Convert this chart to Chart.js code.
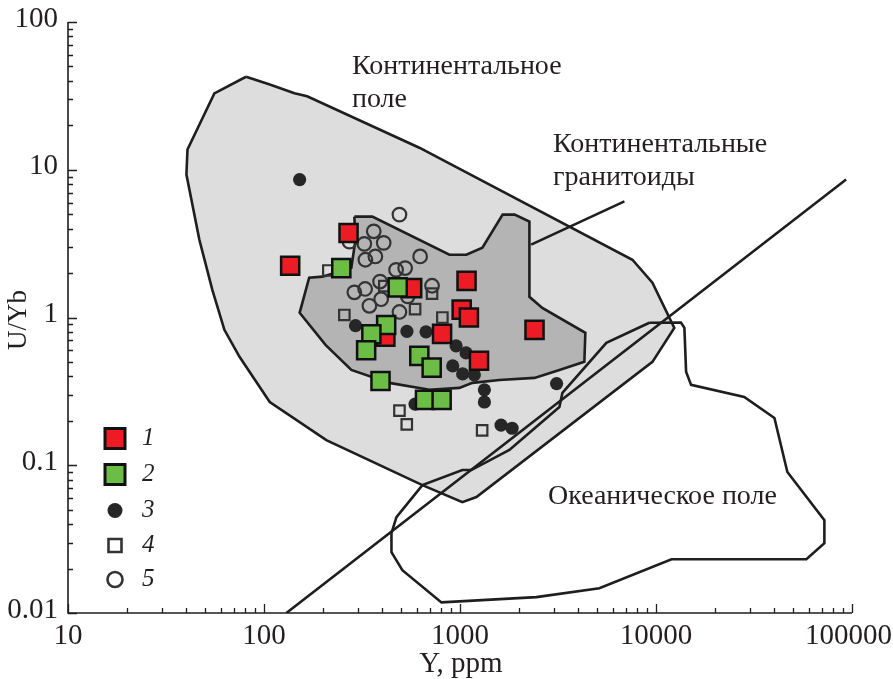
<!DOCTYPE html>
<html>
<head>
<meta charset="utf-8">
<script src="https://cdn.jsdelivr.net/npm/chart.js@4/dist/chart.umd.min.js"></script>
<style>
  html, body { margin: 0; padding: 0; background: #ffffff; }
  #wrap { width: 893px; height: 679px; }
</style>
</head>
<body>
<div id="wrap"><canvas id="c" width="893" height="679"></canvas></div>
<script>
// ---- sample groups: Y (ppm) and U/Yb ----
const yPpm1 = [270, 136, 1080, 570, 1020, 1110, 416, 810, 1250, 2400];
const uYb1  = [3.73, 2.24, 1.77, 1.58, 1.13, 1.0, 0.74, 0.775, 0.51, 0.825];
const yPpm2 = [248, 481, 420, 353, 332, 620, 717, 393, 663, 806];
const uYb2  = [2.16, 1.6, 0.89, 0.77, 0.6, 0.55, 0.458, 0.372, 0.277, 0.277];
const yPpm3 = [152, 293, 536, 671, 955, 1074, 918, 1032, 1184, 1332, 1332, 590, 1620, 1844, 3110];
const uYb3  = [8.58, 0.88, 0.806, 0.80, 0.643, 0.576, 0.47, 0.415, 0.409, 0.324, 0.268, 0.259, 0.187, 0.178, 0.357];
const yPpm4 = [213, 257, 411, 590, 720, 813, 491, 535, 1297];
const uYb4  = [2.08, 1.04, 1.63, 1.14, 1.45, 1.0, 0.234, 0.189, 0.172];
const yPpm5 = [491, 363, 273, 325, 408, 329, 370, 626, 472, 525, 391, 289, 328, 396, 345, 491, 720, 541];
const uYb5  = [4.97, 3.83, 3.26, 3.15, 3.2, 2.46, 2.59, 2.59, 2.1, 2.16, 1.75, 1.48, 1.56, 1.33, 1.2, 1.09, 1.64, 1.39];
const groupLabels = ['1', '2', '3', '4', '5'];

// ---- discrimination field outlines ----
const contFieldY = [81, 107, 143, 166, 620, 7580, 9590, 12400, 9590, 1213, 1028, 643, 208, 107, 75, 62.8, 54.5, 46.8, 40.2, 40.7, 55.8, 81];
const contFieldU = [42.6, 37.8, 32.9, 31.4, 14.1, 2.46, 1.72, 0.851, 0.501, 0.0609, 0.0563, 0.0734, 0.148, 0.268, 0.542, 0.825, 1.54, 3.36, 9.28, 13.7, 32.9, 42.6];

const granY = [289, 357, 883, 1078, 1301, 1650, 1900, 2260, 2260, 2630, 4360, 4310, 3215, 2400, 1590, 1157, 993, 698, 436, 279, 206, 152, 170, 199, 279, 293, 289];
const granU = [4.82, 4.82, 2.66, 2.66, 2.97, 4.97, 4.97, 4.46, 1.38, 1.16, 0.788, 0.501, 0.442, 0.39, 0.378, 0.361, 0.334, 0.324, 0.361, 0.442, 0.653, 1.076, 1.86, 1.89, 2.17, 3.36, 4.82];

const oceanY = [9250, 13400, 13960, 14240, 15100, 28200, 40200, 46800, 72300, 72300, 58500, 12000, 5140, 2450, 804, 508, 447, 447, 474, 643, 1028, 1143, 1786, 3215, 3330, 5580, 9250];
const oceanU = [0.921, 0.923, 0.851, 0.43, 0.35, 0.29, 0.209, 0.09, 0.0425, 0.0297, 0.0231, 0.0231, 0.0147, 0.0128, 0.0118, 0.0195, 0.0258, 0.0347, 0.0446, 0.0734, 0.0928, 0.0928, 0.127, 0.248, 0.309, 0.674, 0.921];

const dividerY = [130, 93300];
const dividerU = [0.01, 8.6];

const leaderY = [2306, 6900];
const leaderU = [3.11, 6.11];

// ---- axes ----
const xTickValues = [10, 100, 1000, 10000, 100000];
const xTickLabels = ['10', '100', '1000', '10000', '100000'];
const yTickValues = [0.01, 0.1, 1, 10, 100];
const yTickLabels = ['0.01', '0.1', '1', '10', '100'];
const xTitle = 'Y, ppm';
const yTitle = 'U/Yb';

const fieldLabels = [
  { lines: ['Континентальное', 'поле'], x: 352, y: 67 },
  { lines: ['Континентальные', 'гранитоиды'], x: 553, y: 145 },
  { lines: ['Океаническое поле'], x: 548, y: 497 }
];

const pairs = (xs, ys) => xs.map((x, i) => ({ x: x, y: ys[i] }));

const INK = '#1e1e1e';
const SERIF = '"Liberation Serif", "Times New Roman", serif';

const outline = (data, order, extra) => Object.assign({
  type: 'line',
  data: data,
  order: order,
  borderColor: INK,
  borderWidth: 2.6,
  pointRadius: 0,
  tension: 0,
  fill: false,
  borderJoinStyle: 'miter'
}, extra || {});

const datasets = [
  { label: groupLabels[1], data: pairs(yPpm2, uYb2), order: 1,
    pointStyle: 'rect', pointRadius: 12.8, pointBackgroundColor: '#6cbd45', pointBorderColor: '#111', pointBorderWidth: 2.5 },
  { label: groupLabels[0], data: pairs(yPpm1, uYb1), order: 2,
    pointStyle: 'rect', pointRadius: 12.8, pointBackgroundColor: '#ed1c24', pointBorderColor: '#111', pointBorderWidth: 2.5 },
  { label: groupLabels[2], data: pairs(yPpm3, uYb3), order: 3,
    pointStyle: 'circle', pointRadius: 6.6, pointBackgroundColor: '#262626', pointBorderColor: '#262626', pointBorderWidth: 0 },
  { label: groupLabels[4], data: pairs(yPpm5, uYb5), order: 4,
    pointStyle: 'circle', pointRadius: 6.8, pointBackgroundColor: 'rgba(0,0,0,0)', pointBorderColor: '#333', pointBorderWidth: 2.2 },
  { label: groupLabels[3], data: pairs(yPpm4, uYb4), order: 5,
    pointStyle: 'rect', pointRadius: 7.4, pointBackgroundColor: 'rgba(0,0,0,0)', pointBorderColor: '#333', pointBorderWidth: 2.2 },
  outline(pairs(dividerY, dividerU), 6),
  outline(pairs(oceanY, oceanU), 7),
  outline(pairs(leaderY, leaderU), 8),
  outline(pairs(granY, granU), 9, { fill: 'shape', backgroundColor: '#b3b4b3' }),
  outline(pairs(contFieldY, contFieldU), 10, { fill: 'shape', backgroundColor: '#dcdddc' })
];

// axes with inward ticks, tick labels, titles
const axesPlugin = {
  id: 'axesPlugin',
  afterDraw(chart) {
    const { ctx, chartArea: a, scales } = chart;
    const xs = scales.x, ys = scales.y;
    ctx.save();
    ctx.strokeStyle = INK;
    ctx.lineWidth = 1.6;
    ctx.lineCap = 'butt';
    ctx.beginPath();
    ctx.moveTo(a.left, a.top);
    ctx.lineTo(a.left, a.bottom);
    ctx.lineTo(a.right, a.bottom);
    ctx.stroke();

    ctx.lineWidth = 1.3;
    ctx.beginPath();
    for (let d = 1; d < 5; d++) {
      for (let m = 1; m <= 10; m++) {
        const v = m * Math.pow(10, d);
        const px = Math.round(xs.getPixelForValue(v)) + 0.5;
        const len = (m === 1 || m === 10) ? 9 : 5;
        ctx.moveTo(px, a.bottom);
        ctx.lineTo(px, a.bottom - len);
      }
    }
    for (let d = -2; d < 2; d++) {
      for (let m = 1; m <= 10; m++) {
        const v = m * Math.pow(10, d);
        const py = Math.round(ys.getPixelForValue(v)) + 0.5;
        const len = (m === 1 || m === 10) ? 9 : 5;
        ctx.moveTo(a.left, py);
        ctx.lineTo(a.left + len, py);
      }
    }
    ctx.stroke();

    ctx.fillStyle = '#231f20';
    ctx.font = '29px ' + SERIF;
    ctx.textAlign = 'center';
    ctx.textBaseline = 'middle';
    xTickValues.forEach((v, i) => {
      const last = i === xTickValues.length - 1;
      ctx.textAlign = last ? 'right' : 'center';
      ctx.fillText(xTickLabels[i], last ? 892 : xs.getPixelForValue(v), a.bottom + 23);
    });
    ctx.textAlign = 'right';
    yTickValues.forEach((v, i) => {
      ctx.fillText(yTickLabels[i], a.left - 10, ys.getPixelForValue(v) - 3);
    });

    ctx.font = '29px ' + SERIF;
    ctx.textAlign = 'center';
    ctx.fillText(xTitle, 461, a.bottom + 51);
    ctx.font = '27px ' + SERIF;
    ctx.save();
    ctx.translate(19, 320);
    ctx.rotate(-Math.PI / 2);
    ctx.fillText(yTitle, 0, 0);
    ctx.restore();

    // field names
    ctx.font = '28px ' + SERIF;
    ctx.textAlign = 'left';
    fieldLabels.forEach(f => {
      f.lines.forEach((t, k) => ctx.fillText(t, f.x, f.y + k * 33));
    });

    // legend
    const lx = 115, ly = [438.5, 474.5, 510.5, 545.5, 579.5];
    const sets = [1, 0, 2, 4, 3].map(i => chart.data.datasets[i]);
    sets.forEach((ds, k) => {
      const y = ly[k];
      ctx.beginPath();
      if (ds.pointStyle === 'rect') {
        const s = k < 2 ? 20 : 13;
        ctx.rect(lx - s / 2, y - s / 2, s, s);
      } else {
        ctx.arc(lx, y, 7.5, 0, Math.PI * 2);
      }
      const filled = ds.pointBackgroundColor !== 'rgba(0,0,0,0)';
      ctx.fillStyle = filled ? ds.pointBackgroundColor : '#ffffff';
      ctx.fill();
      if (ds.pointBorderWidth > 0) {
        ctx.lineWidth = k < 2 ? 3 : 2.6;
        ctx.strokeStyle = ds.pointBorderColor;
        ctx.stroke();
      }
      ctx.fillStyle = '#231f20';
      ctx.font = 'italic 25px ' + SERIF;
      ctx.textAlign = 'left';
      ctx.fillText(ds.label, 142, y);
    });
    ctx.restore();
  }
};

new Chart(document.getElementById('c'), {
  type: 'scatter',
  data: { datasets: datasets },
  options: {
    responsive: false,
    devicePixelRatio: 1,
    animation: false,
    events: [],
    layout: { padding: { top: 22, right: 41, left: 0, bottom: 0 } },
    plugins: { legend: { display: false }, tooltip: { enabled: false } },
    scales: {
      x: {
        type: 'logarithmic', min: 10, max: 100000,
        ticks: { display: false }, grid: { display: false }, border: { display: false },
        afterFit(s) { s.height = 66; s.paddingLeft = 0; s.paddingRight = 0; }
      },
      y: {
        type: 'logarithmic', min: 0.01, max: 100,
        ticks: { display: false }, grid: { display: false }, border: { display: false },
        afterFit(s) { s.width = 68; s.paddingTop = 0; s.paddingBottom = 0; }
      }
    }
  },
  plugins: [axesPlugin]
});
</script>
</body>
</html>
